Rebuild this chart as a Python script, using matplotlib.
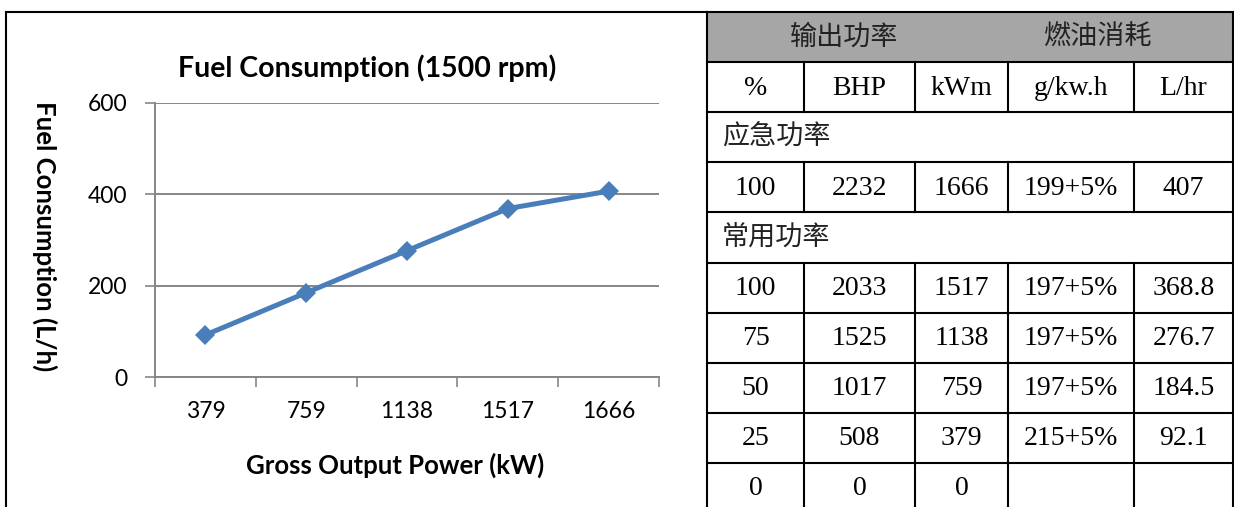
import matplotlib.pyplot as plt
from matplotlib.patches import Rectangle

# chart data
power_kw = ['379', '759', '1138', '1517', '1666']
fuel_lph = [92.1, 184.5, 276.7, 368.8, 407]
y_ticks = [0, 200, 400, 600]

# table data
header_groups = ['输出功率', '燃油消耗']
unit_row = ['%', 'BHP', 'kWm', 'g/kw.h', 'L/hr']
standby_label = '应急功率'
standby_rows = [['100', '2232', '1666', '199+5%', '407']]
prime_label = '常用功率'
prime_rows = [
    ['100', '2033', '1517', '197+5%', '368.8'],
    ['75', '1525', '1138', '197+5%', '276.7'],
    ['50', '1017', '759', '197+5%', '184.5'],
    ['25', '508', '379', '215+5%', '92.1'],
    ['0', '0', '0', '', ''],
]

W, H = 1234, 507
fig = plt.figure(figsize=(W / 100, H / 100), dpi=100)

# overlay in pixel coordinates for frame + table
bg = fig.add_axes([0, 0, 1, 1])
bg.set_xlim(0, W)
bg.set_ylim(H, 0)
bg.axis('off')

lw = 1.5
serif = ['Liberation Serif', 'Noto Sans CJK SC']
cjk = ['Noto Sans CJK SC', 'Liberation Serif']

# chart frame
bg.plot([6, 6], [12, H + 5], color='black', lw=lw)
bg.plot([6, 707], [12, 12], color='black', lw=lw)

# table layout
cols = [707, 804, 915, 1008, 1134, 1233]
rows = [12 + 50.1 * i for i in range(11)]

bg.add_patch(Rectangle((cols[0], rows[0]), cols[-1] - cols[0], rows[1] - rows[0],
                       facecolor='#a6a6a6', edgecolor='none'))
for y in rows[:10]:
    bg.plot([cols[0], cols[-1]], [y, y], color='black', lw=lw)
bg.plot([cols[0], cols[0]], [rows[0], H + 5], color='black', lw=lw)
bg.plot([cols[-1], cols[-1]], [rows[0], H + 5], color='black', lw=lw)

# header row
bg.text(844, (rows[0] + rows[1]) / 2, header_groups[0], ha='center', va='center',
        fontsize=19.5, family=cjk, color='#222222')
bg.text(1097, (rows[0] + rows[1]) / 2, header_groups[1], ha='center', va='center',
        fontsize=19.5, family=cjk, color='#222222')


def data_row(r, values):
    y0, y1 = rows[r], rows[r + 1]
    for x in cols[1:-1]:
        bg.plot([x, x], [y0, y1], color='black', lw=lw)
    for i, v in enumerate(values):
        bg.text((cols[i] + cols[i + 1]) / 2, (y0 + y1) / 2 + 1, v, ha='center',
                va='center', fontsize=20, family=serif, color='black')


def label_row(r, label):
    bg.text(cols[0] + 15, (rows[r] + rows[r + 1]) / 2, label, ha='left',
            va='center', fontsize=19.5, family=cjk, color='#222222')


data_row(1, unit_row)
label_row(2, standby_label)
for k, vals in enumerate(standby_rows):
    data_row(3 + k, vals)
label_row(4, prime_label)
for k, vals in enumerate(prime_rows):
    data_row(5 + k, vals)

# line chart
ax = fig.add_axes([155 / W, 1 - 377 / H, 504 / W, 274 / H])
ax.set_facecolor('none')
xs = list(range(len(power_kw)))
ax.plot(xs, fuel_lph, color='#4a7ebb', lw=3.6, marker='D', markersize=10.5,
        markeredgewidth=0, zorder=3)
ax.set_xlim(-0.5, len(power_kw) - 0.5)
ax.set_ylim(0, 600)
ax.set_yticks(y_ticks)
ax.set_yticklabels([str(t) for t in y_ticks], family='Lato', fontsize=16.5)
ax.set_xticks([i - 0.5 for i in range(len(power_kw) + 1)])
ax.set_xticklabels([])
ax.set_xticks(xs, minor=True)
ax.set_xticklabels(power_kw, minor=True, family='Lato', fontsize=16.5)
ax.tick_params(axis='x', which='major', length=7, width=1.2, color='#868686')
ax.tick_params(axis='x', which='minor', length=0, pad=17)
ax.tick_params(axis='y', length=7, width=1.2, color='#868686', pad=13)
ax.grid(axis='y', color='#868686', lw=1.4)
for s in ['top', 'right']:
    ax.spines[s].set_visible(False)
for s in ['left', 'bottom']:
    ax.spines[s].set_color('#868686')
    ax.spines[s].set_linewidth(1.4)

fig.text(367 / W, 1 - 68 / H, 'Fuel Consumption (1500 rpm)', ha='center', va='center',
         family='Lato', fontweight='bold', fontsize=20.5)
fig.text(395 / W, 1 - 465 / H, 'Gross Output Power (kW)', ha='center', va='center',
         family='Lato', fontweight='bold', fontsize=18.5)
fig.text(45 / W, 1 - 236 / H, 'Fuel Consumption (L/h)', ha='center', va='center',
         rotation=-90, family='Lato', fontweight='bold', fontsize=18.5)

fig.savefig('out.png', dpi=100)
